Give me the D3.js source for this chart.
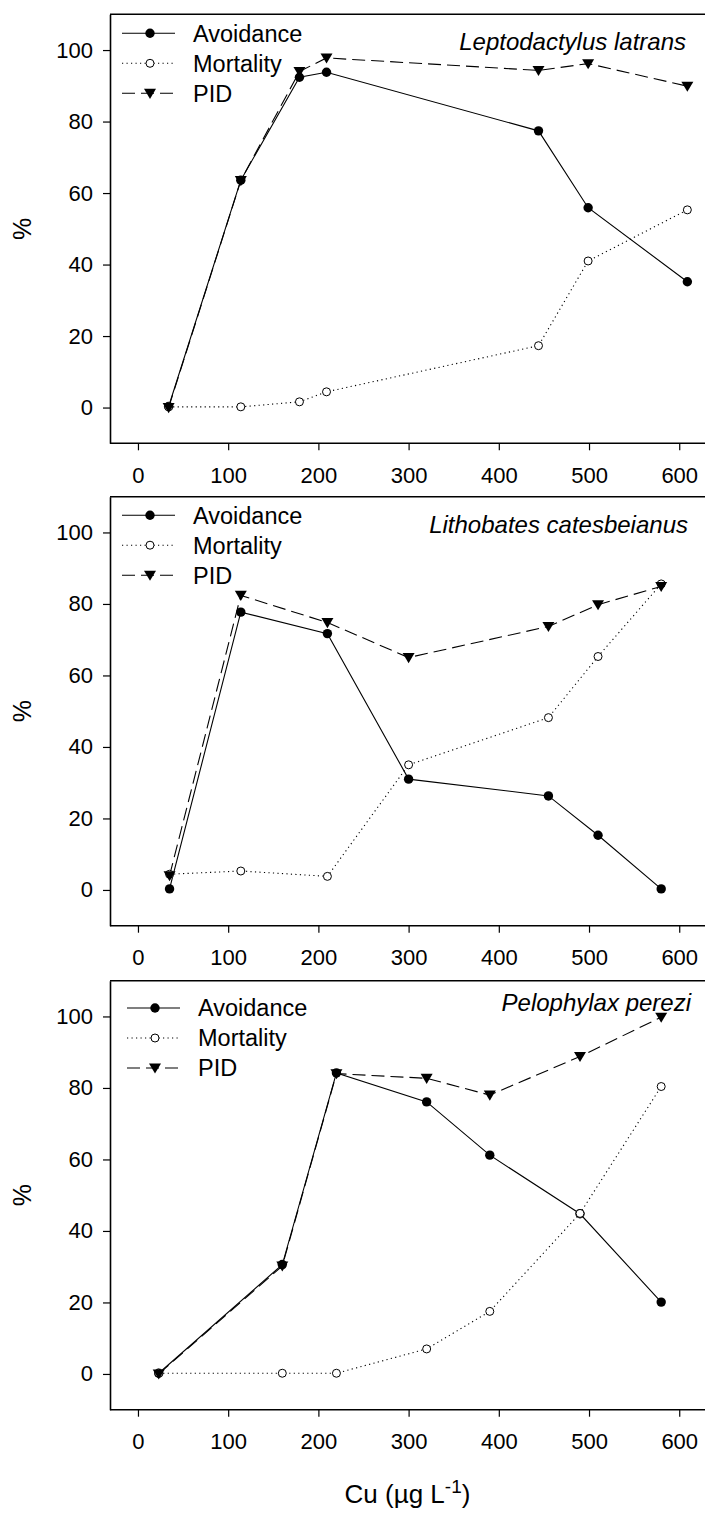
<!DOCTYPE html>
<html>
<head>
<meta charset="utf-8">
<script src="https://cdn.jsdelivr.net/npm/d3@7"></script>
<style>
  body { margin: 0; background: #fff; }
  text { font-family: "Liberation Sans", Arial, sans-serif; fill: #000; }
</style>
</head>
<body>
<div id="chart"></div>
<script>
// data
var xTicks = [0, 100, 200, 300, 400, 500, 600];
var yTicks = [0, 20, 40, 60, 80, 100];
var seriesNames = ["Avoidance", "Mortality", "PID"];
var species = ["Leptodactylus latrans", "Lithobates catesbeianus", "Pelophylax perezi"];

var latransCu = [34, 114, 179, 209, 444, 499, 609];
var latransAvoidance = [0.3, 63.6, 92.4, 93.8, 77.4, 55.9, 35.2];
var latransMortality = [0.2, 0.2, 1.6, 4.4, 17.3, 41.0, 55.3];
var latransPID = [0, 63.5, 94, 97.8, 94.3, 96.2, 89.9];

var catesbeianusCu = [35, 114, 210, 300, 455, 510, 580];
var catesbeianusAvoidance = [0.3, 77.7, 71.7, 31.0, 26.3, 15.3, 0.3];
var catesbeianusMortality = [4.4, 5.3, 3.8, 35.0, 48.2, 65.3, 85.6];
var catesbeianusPID = [4.0, 82.4, 74.8, 65.0, 73.7, 79.8, 84.9];

var pereziCu = [23, 160, 220, 320, 390, 490, 580];
var pereziAvoidance = [0.2, 30.6, 84.2, 76.1, 61.2, 44.8, 20.1];
var pereziMortality = [0.2, 0.2, 0.2, 7.0, 17.5, 44.9, 80.4];
var pereziPID = [0, 30.2, 84.0, 82.7, 78.0, 88.8, 99.8];

var panels = [
  { cu: latransCu, values: [latransAvoidance, latransMortality, latransPID] },
  { cu: catesbeianusCu, values: [catesbeianusAvoidance, catesbeianusMortality, catesbeianusPID] },
  { cu: pereziCu, values: [pereziAvoidance, pereziMortality, pereziPID] }
];

//layout
var svgWidth = 705;
var svgHeight = 1515;
var plotLeft = 110;
var plotRight = 706.3;
var panelTops = [14.3, 496.7, 980.7];
var panelHeight = 429;
var legendTop = [19, 18.5, 27.3];
var legendLeft = [122, 122, 127];
var labelRight = [686, 688, 691];
var labelBaseline = [36, 36, 30];
var tickFont = 22;
var legendFont = 23.5;

var svg = d3.select("#chart")
  .append("svg")
  .attr("width", svgWidth)
  .attr("height", svgHeight);

var xScale = d3.scaleLinear()
  .domain([-31, 630])
  .range([plotLeft, plotRight]);

var lineStyles = ["none", "1.2,3.3", "13,6"];

// draws one marker shape at 0,0
function addMarker(sel, i) {
  if (i === 0) {
    sel.append("circle").attr("r", 4.7).attr("fill", "#000");
  } else if (i === 1) {
    sel.append("circle").attr("r", 4).attr("fill", "#fff")
      .attr("stroke", "#000").attr("stroke-width", 1);
  } else {
    sel.append("path").attr("d", "M-6,-4.5L6,-4.5L0,5.6Z").attr("fill", "#000");
  }
}

panels.forEach(function(panel, p) {
  var top = panelTops[p];
  var bottom = top + panelHeight;
  var yScale = d3.scaleLinear()
    .domain([-10, 110])
    .range([bottom, top]);

  var g = svg.append("g");

  // frame top line
  g.append("line")
    .attr("x1", plotLeft).attr("x2", svgWidth)
    .attr("y1", top).attr("y2", top)
    .attr("stroke", "#000").attr("stroke-width", 1.6);

  var bottomAxis = d3.axisBottom(xScale)
    .tickValues(xTicks)
    .tickSize(7)
    .tickSizeOuter(0)
    .tickPadding(17);
  var xAxis = g.append("g")
    .attr("transform", `translate(0, ${bottom})`)
    .call(bottomAxis);

  var leftAxis = d3.axisLeft(yScale)
    .tickValues(yTicks)
    .tickSize(7)
    .tickSizeOuter(0)
    .tickPadding(10);
  var yAxis = g.append("g")
    .attr("transform", `translate(${plotLeft}, 0)`)
    .call(leftAxis);

  [xAxis, yAxis].forEach(function(ax) {
    ax.select(".domain").attr("stroke-width", 1.6);
    ax.selectAll(".tick line").attr("stroke-width", 1.2);
    ax.selectAll("text")
      .style("font-size", tickFont + "px")
      .style("font-family", "Liberation Sans, Arial, sans-serif")
      .attr("fill", "#000");
  });
  xAxis.select(".domain").attr("d", `M${plotLeft},0H${svgWidth}`);

  // y label
  g.append("text")
    .attr("transform", `translate(31, ${(top + bottom) / 2}) rotate(-90)`)
    .attr("text-anchor", "middle")
    .style("font-size", "25px")
    .text("%");

  // series lines
  panel.values.forEach(function(vals, i) {
    var pts = panel.cu.map(function(c, k) { return [c, vals[k]]; });
    var line = d3.line()
      .x(d => xScale(d[0]))
      .y(d => yScale(d[1]));
    g.append("path")
      .attr("d", line(pts))
      .attr("fill", "none")
      .attr("stroke", "#000")
      .attr("stroke-width", 1.1)
      .attr("stroke-dasharray", lineStyles[i]);
  });

  // markers on top
  panel.values.forEach(function(vals, i) {
    panel.cu.forEach(function(c, k) {
      var m = g.append("g")
        .attr("transform", `translate(${xScale(c)}, ${yScale(vals[k])})`);
      addMarker(m, i);
    });
  });

  // legend
  seriesNames.forEach(function(name, i) {
    var ly = top + legendTop[p] + i * 30;
    var lx = legendLeft[p];
    g.append("line")
      .attr("x1", lx).attr("x2", lx + 53)
      .attr("y1", ly).attr("y2", ly)
      .attr("stroke", "#000")
      .attr("stroke-width", 1.1)
      .attr("stroke-dasharray", lineStyles[i]);
    var m = g.append("g").attr("transform", `translate(${lx + 28}, ${ly})`);
    addMarker(m, i);
    g.append("text")
      .attr("x", lx + 71)
      .attr("y", ly)
      .attr("dy", "0.36em")
      .style("font-size", legendFont + "px")
      .text(name);
  });

  // species name
  g.append("text")
    .attr("x", labelRight[p])
    .attr("y", top + labelBaseline[p])
    .attr("text-anchor", "end")
    .style("font-size", "24px")
    .style("font-style", "italic")
    .text(species[p]);
});

// x axis title
var xTitle = svg.append("text")
  .attr("x", (plotLeft + svgWidth) / 2)
  .attr("y", 1503)
  .attr("text-anchor", "middle")
  .style("font-size", "26px");
xTitle.append("tspan").text("Cu (µg L");
xTitle.append("tspan").attr("dy", -10).style("font-size", "19px").text("-1");
xTitle.append("tspan").attr("dy", 10).text(")");
</script>
</body>
</html>
